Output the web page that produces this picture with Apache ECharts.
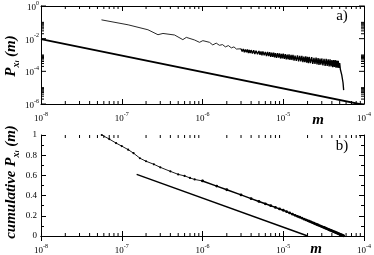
<!DOCTYPE html>
<html><head><meta charset="utf-8">
<script src="https://cdn.jsdelivr.net/npm/echarts@6/dist/echarts.min.js"></script>
<style>html,body{margin:0;padding:0;background:#fff}#c{width:374px;height:255px}</style>
</head><body><div id="c"></div>
<script>
// ---- data ----
// panel a) measured P_xi(m): smooth/oscillating part
const mA1 = [5.61e-8,1.20e-7,2.11e-7,2.81e-7,3.24e-7,4.51e-7,5.71e-7,6.30e-7,7.96e-7,9.18e-7,1.01e-6,1.22e-6,1.34e-6,1.48e-6,1.62e-6,1.77e-6,1.92e-6,2.09e-6,2.28e-6,2.45e-6,2.63e-6];
const pA1 = [0.142,0.0705,0.0351,0.01746,0.0209,0.01675,8.7e-3,0.0120,8.34e-3,5.97e-3,7.57e-3,5.97e-3,4.15e-3,5.33e-3,3.93e-3,4.33e-3,3.14e-3,3.77e-3,2.73e-3,3.14e-3,2.31e-3];
// panel a) noisy part
const mA2 = [3.0e-6,3.1e-6,3.2e-6,3.3e-6,3.4e-6,3.5e-6,3.6e-6,3.7e-6,3.8e-6,3.9e-6,4.0e-6,4.15e-6,4.3e-6,4.45e-6,4.6e-6,4.8e-6,5.0e-6,5.15e-6,5.3e-6,5.45e-6,5.6e-6,5.8e-6,6.0e-6,
6.2e-6,6.4e-6,6.6e-6,6.8e-6,7.0e-6,7.2e-6,7.4e-6,7.6e-6,7.8e-6,8.0e-6,8.25e-6,8.5e-6,8.75e-6,9.0e-6,9.25e-6,9.5e-6,9.75e-6,
1.0e-5,1.03e-5,1.06e-5,1.09e-5,1.12e-5,1.15e-5,1.18e-5,1.21e-5,1.25e-5,1.28e-5,1.32e-5,1.36e-5,1.4e-5,1.45e-5,1.5e-5,1.55e-5,1.6e-5,1.65e-5,1.7e-5,1.75e-5,1.8e-5,1.85e-5,1.9e-5,1.95e-5,
2.0e-5,2.05e-5,2.1e-5,2.17e-5,2.25e-5,2.32e-5,2.4e-5,2.47e-5,2.55e-5,2.62e-5,2.7e-5,2.77e-5,2.85e-5,2.92e-5,3.0e-5,3.1e-5,3.2e-5,3.3e-5,3.4e-5,3.5e-5,3.6e-5,3.7e-5,3.8e-5,3.9e-5,
4.0e-5,4.1e-5,4.2e-5,4.3e-5,4.4e-5,4.5e-5,4.6e-5,4.7e-5,4.8e-5,4.9e-5,
5.0e-5,5.1e-5,5.2e-5,5.3e-5,5.4e-5,5.5e-5,5.6e-5];
const pA2 = [2.40e-3,1.62e-3,2.34e-3,1.48e-3,2.14e-3,1.45e-3,2.20e-3,1.33e-3,2.02e-3,1.31e-3,2.00e-3,1.22e-3,1.94e-3,1.14e-3,1.80e-3,1.13e-3,1.78e-3,1.02e-3,1.66e-3,9.6e-4,1.67e-3,9.6e-4,1.56e-3,
8.55e-4,1.52e-3,8.57e-4,1.49e-3,7.66e-4,1.40e-3,7.71e-4,1.41e-3,7.24e-4,1.32e-3,6.79e-4,1.30e-3,6.82e-4,1.27e-3,6.11e-4,1.17e-3,6.17e-4,
1.21e-3,5.79e-4,1.13e-3,5.31e-4,1.06e-3,5.47e-4,1.10e-3,5.04e-4,1.03e-3,4.94e-4,1.01e-3,4.52e-4,9.25e-4,4.42e-4,9.44e-4,4.02e-4,8.79e-4,4.12e-4,8.81e-4,3.60e-4,8.07e-4,3.62e-4,8.32e-4,3.40e-4,
7.66e-4,3.21e-4,7.57e-4,3.23e-4,7.36e-4,2.87e-4,6.71e-4,2.87e-4,6.89e-4,2.69e-4,6.46e-4,2.47e-4,6.07e-4,2.54e-4,6.12e-4,2.33e-4,5.71e-4,2.12e-4,5.73e-4,2.18e-4,5.37e-4,2.00e-4,5.41e-4,1.97e-4,
4.86e-4,1.82e-4,4.91e-4,1.84e-4,4.86e-4,1.66e-4,4.50e-4,1.68e-4,4.46e-4,1.60e-4,
3.2e-4,1.3e-4,1.6e-4,6.0e-5,5.0e-5,2.0e-5,7.1e-6];
// panel a) reference power law
const refAm = [1e-8, 1e-4];
const refAp = [9.5e-3, 8.7e-7];
// panel b) cumulative
const mB = [5.66e-8,7e-8,8.5e-8,1e-7,1.2e-7,1.4e-7,1.68e-7,2e-7,2.5e-7,3e-7,4e-7,5e-7,6e-7,7e-7,8e-7,1e-6,1.5e-6,2e-6,3e-6,4e-6,5e-6,6e-6,7e-6,8e-6,9e-6,
1.0e-5,1.1e-5,1.2e-5,1.3e-5,1.4e-5,1.5e-5,1.6e-5,1.7e-5,1.8e-5,1.9e-5,2.0e-5,2.1e-5,2.2e-5,2.3e-5,2.4e-5,2.5e-5,2.6e-5,2.7e-5,2.8e-5,2.9e-5,3.0e-5,3.1e-5,3.2e-5,3.3e-5,3.4e-5,3.5e-5,3.6e-5,3.7e-5,3.8e-5,3.9e-5,4.0e-5,4.1e-5,4.2e-5,4.3e-5,4.4e-5,4.5e-5,4.6e-5,4.7e-5,4.8e-5,4.9e-5,5.0e-5,5.1e-5,5.2e-5,5.3e-5,5.4e-5,5.5e-5,5.6e-5];
const cB = [1.0,0.96,0.92,0.89,0.855,0.82,0.77,0.74,0.71,0.68,0.64,0.61,0.595,0.575,0.56,0.545,0.494,0.458,0.407,0.370,0.342,0.319,0.300,0.283,0.268,
0.255,0.241,0.228,0.216,0.205,0.195,0.186,0.177,0.168,0.160,0.153,0.146,0.139,0.132,0.126,0.120,0.114,0.109,0.103,0.098,0.093,0.088,0.084,0.079,0.075,0.071,0.066,0.062,0.058,0.055,0.051,0.047,0.044,0.040,0.037,0.034,0.030,0.027,0.024,0.021,0.018,0.015,0.012,0.010,0.007,0.004,0.002];
const refBm = [1.53e-7, 2.01e-5];
const refBc = [0.61, 0];
// axis tick definitions
const xDecades = [-8,-7,-6,-5];
const yMajorExpA = [0,-2,-4,-6];
const yMinorDecA = [-2,-4,-6];

// ---- chart ----
const SERIF = 'Liberation Serif';
const zip = (a,b) => a.map((v,i) => [v,b[i]]);
const splitB = 15; // index of m = 1e-6 in mB (heavier part starts)
const xMinor = [];
xDecades.forEach(e => { for (let k=2;k<=9;k++) xMinor.push([k*Math.pow(10,e), 0]); });
const yTicksA = [];
yMajorExpA.forEach(e => yTicksA.push([1e-8, Math.pow(10,e), 5]));
yMinorDecA.forEach(e => { for (let k=2;k<=10;k++) yTicksA.push([1e-8, k*Math.pow(10,e), 3]); });

const richExp = {
  b:{fontFamily:SERIF,fontSize:9,lineHeight:12,verticalAlign:'bottom',color:'#000'},
  s:{fontFamily:SERIF,fontSize:6,lineHeight:7,verticalAlign:'top',color:'#000'}
};
const expLabel = v => '{b|10}{s|' + Math.round(Math.log10(v)) + '}';
const axLine = {show:true, lineStyle:{color:'#000', width:1}};

function xAx(grid, pos, labels){
  return {type:'log', gridIndex:grid, position:pos, min:1e-8, max:1e-4, logBase:10,
    axisLine:axLine, splitLine:{show:false},
    axisTick:{show:true, inside:true, length:5, lineStyle:{color:'#000'}},
    axisLabel:{show:labels, formatter:expLabel, rich:richExp, margin:7, color:'#000'}};
}
function tickLine(x1,y1,x2,y2){ return {type:'line',shape:{x1,y1,x2,y2},style:{stroke:'#000',lineWidth:1}}; }
const titleRich = {
  P:{fontFamily:SERIF,fontSize:15,fontWeight:'bold',fontStyle:'italic',lineHeight:20,fill:'#000'},
  x:{fontFamily:SERIF,fontSize:10,fontWeight:'bold',fontStyle:'italic',lineHeight:14,verticalAlign:'bottom',fill:'#000'},
  i:{fontFamily:SERIF,fontSize:7,fontWeight:'bold',fontStyle:'italic',lineHeight:7,verticalAlign:'bottom',fill:'#000'},
  p:{fontFamily:SERIF,fontSize:15,fontWeight:'bold',fontStyle:'italic',lineHeight:20,fill:'#000'}
};
const chart = echarts.init(document.getElementById('c'), null, {renderer:'canvas'});
const option = {
  animation:false,
  grid:[{left:41, top:5, width:324, height:99},{left:41, top:135, width:324, height:108}],
  xAxis:[xAx(0,'bottom',true), xAx(0,'top',false), xAx(1,'bottom',true), xAx(1,'top',false)],
  yAxis:[
    {type:'log', gridIndex:0, position:'left', min:1e-6, max:1, logBase:10, axisLine:axLine, splitLine:{show:false},
     axisTick:{show:false},
     axisLabel:{formatter:v => (Math.round(Math.log10(v))%2===0 ? expLabel(v) : ''), rich:richExp, margin:2, color:'#000'}},
    {type:'log', gridIndex:0, position:'right', min:1e-6, max:1, logBase:10, axisLine:axLine, splitLine:{show:false},
     axisTick:{show:false}, axisLabel:{show:false}},
    {type:'value', gridIndex:1, position:'left', min:0, max:1, interval:0.2, axisLine:axLine, splitLine:{show:false},
     axisTick:{show:true, inside:true, length:5, lineStyle:{color:'#000'}},
     minorTick:{show:true, splitNumber:2, length:3, lineStyle:{color:'#000'}},
     axisLabel:{fontFamily:SERIF, fontSize:9, color:'#000', margin:4}},
    {type:'value', gridIndex:1, position:'right', min:0, max:1, interval:0.2, axisLine:axLine, splitLine:{show:false},
     axisTick:{show:true, inside:true, length:5, lineStyle:{color:'#000'}},
     minorTick:{show:true, splitNumber:2, length:3, lineStyle:{color:'#000'}},
     axisLabel:{show:false}}
  ],
  series:[
    {type:'line', xAxisIndex:0, yAxisIndex:0, data:zip(mA1.concat(mA2[0]), pA1.concat(pA2[0])), showSymbol:false, symbol:'none',
     lineStyle:{color:'#111', width:0.9}, z:3},
    {type:'line', xAxisIndex:0, yAxisIndex:0, data:zip(mA2, pA2), showSymbol:false, symbol:'none',
     lineStyle:{color:'#000', width:1.35}, z:3},
    {type:'line', xAxisIndex:0, yAxisIndex:0, data:zip(refAm,refAp), showSymbol:false, symbol:'none',
     lineStyle:{color:'#000', width:1.8}, z:3},
    {type:'line', xAxisIndex:2, yAxisIndex:2, data:zip(mB.slice(0,splitB+1), cB.slice(0,splitB+1)), symbol:'circle', symbolSize:2.2, showSymbol:true,
     itemStyle:{color:'#000'}, lineStyle:{color:'#000', width:0.9}, z:3},
    {type:'line', xAxisIndex:2, yAxisIndex:2, data:zip(mB.slice(splitB), cB.slice(splitB)), symbol:'circle', symbolSize:2.8, showSymbol:true,
     itemStyle:{color:'#000'}, lineStyle:{color:'#000', width:1.5}, z:3},
    {type:'line', xAxisIndex:2, yAxisIndex:2, data:zip(refBm,refBc), showSymbol:false, symbol:'none',
     lineStyle:{color:'#000', width:1.5}, z:3},
    // minor log ticks on x axes (both panels, top and bottom edges)
    {type:'custom', xAxisIndex:0, yAxisIndex:0, data:xMinor.map(d=>[d[0],1e-6]), silent:true, clip:false, z:5,
     renderItem:(p,api)=>{const v=api.value(0); const b=api.coord([v,1e-6]); const t=api.coord([v,1]);
       return {type:'group',children:[tickLine(b[0],b[1],b[0],b[1]-3), tickLine(t[0],t[1],t[0],t[1]+3)]};}},
    {type:'custom', xAxisIndex:2, yAxisIndex:2, data:xMinor.map(d=>[d[0],0]), silent:true, clip:false, z:5,
     renderItem:(p,api)=>{const v=api.value(0); const b=api.coord([v,0]); const t=api.coord([v,1]);
       return {type:'group',children:[tickLine(b[0],b[1],b[0],b[1]-3), tickLine(t[0],t[1],t[0],t[1]+3)]};}},
    // ticks on the log y axis of panel a)
    {type:'custom', xAxisIndex:0, yAxisIndex:0, data:yTicksA, silent:true, clip:false, z:5,
     renderItem:(p,api)=>{const v=api.value(1); const len=api.value(2); const l=api.coord([1e-8,v]); const r=api.coord([1e-4,v]);
       return {type:'group',children:[tickLine(l[0],l[1],l[0]+len,l[1]), tickLine(r[0],r[1],r[0]-len,r[1])]};}}
  ],
  graphic:[
    {type:'text', x:11, y:56, rotation:Math.PI/2, silent:true,
     style:{text:'{P|P}{x|x}{i|i}{p| (m)}', align:'center', verticalAlign:'middle', fill:'#000', rich:titleRich}},
    {type:'text', x:11, y:182, rotation:Math.PI/2, silent:true,
     style:{text:'{P|cumulative P}{x|x}{i|i}{p| (m)}', align:'center', verticalAlign:'middle', fill:'#000', rich:titleRich}},
    {type:'text', x:318, y:120, silent:true, style:{text:'m', align:'center', verticalAlign:'middle', fill:'#000',
       fontFamily:SERIF, fontSize:15, fontWeight:'bold', fontStyle:'italic'}},
    {type:'text', x:316, y:249, silent:true, style:{text:'m', align:'center', verticalAlign:'middle', fill:'#000',
       fontFamily:SERIF, fontSize:15, fontWeight:'bold', fontStyle:'italic'}},
    {type:'text', x:342, y:16, silent:true, style:{text:'a)', align:'center', verticalAlign:'middle', fill:'#000',
       fontFamily:SERIF, fontSize:15}},
    {type:'text', x:342, y:146, silent:true, style:{text:'b)', align:'center', verticalAlign:'middle', fill:'#000',
       fontFamily:SERIF, fontSize:15}}
  ]
};
chart.setOption(option);
</script></body></html>
